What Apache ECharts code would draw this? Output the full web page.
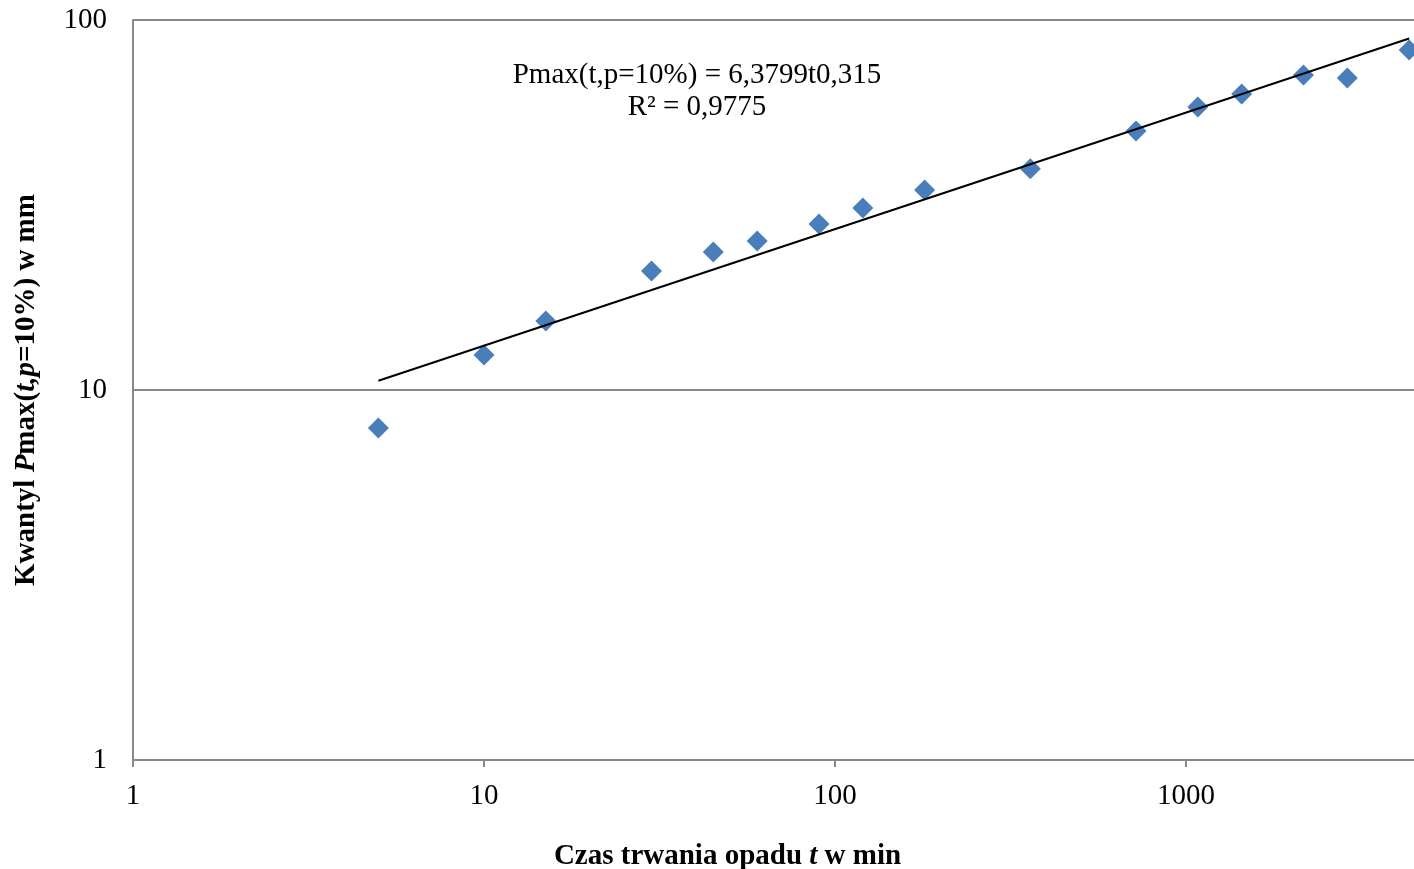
<!DOCTYPE html>
<html>
<head>
<meta charset="utf-8">
<script src="https://cdn.jsdelivr.net/npm/echarts@6/dist/echarts.min.js"></script>
<style>
html,body{margin:0;padding:0;background:#fff;}
#chart{width:1414px;height:869px;}
</style>
</head>
<body>
<div id="chart"></div>
<script>
// Data
var durations = [5, 10, 15, 30, 45, 60, 90, 120, 180, 360, 720, 1080, 1440, 2160, 2880, 4320];
var quantiles = [7.89, 12.43, 15.37, 20.97, 23.6, 25.27, 28.1, 31.04, 34.7, 39.6, 50.1, 58.2, 63.1, 71.0, 69.7, 83.0];
var trendX = [5, 4320];
var trendY = [10.59, 89.1];
var equationText = 'Pmax(t,p=10%) = 6,3799t0,315\nR² = 0,9775';

var FONT = '"Liberation Serif", "Times New Roman", serif';
var FS = 29;
var chart = echarts.init(document.getElementById('chart'));

var pts = durations.map(function (d, i) { return [d, quantiles[i]]; });
var trend = trendX.map(function (d, i) { return [d, trendY[i]]; });
var rich = {
  b: { fontFamily: FONT, fontSize: FS, fontWeight: 'bold', color: '#000' },
  bi: { fontFamily: FONT, fontSize: FS, fontWeight: 'bold', fontStyle: 'italic', color: '#000' }
};

chart.setOption({
  animation: false,
  backgroundColor: '#fff',
  grid: { left: 133, right: 0, top: 20, bottom: 109, containLabel: false, outerBoundsMode: 'none' },
  xAxis: {
    type: 'log', logBase: 10, min: 1, max: 4460,
    axisLine: { lineStyle: { color: '#898989', width: 2 } },
    axisTick: { show: true, length: 7, lineStyle: { color: '#898989', width: 2 } },
    minorTick: { show: false },
    splitLine: { show: false },
    axisLabel: { color: '#000', fontFamily: FONT, fontSize: FS, margin: 22, showMaxLabel: false,
      formatter: function (v) { return String(Math.round(v)); } },
    name: '{b|Czas trwania opadu }{bi|t}{b| w min}',
    nameLocation: 'middle', nameGap: 82,
    nameTextStyle: { rich: rich, padding: [0, 92, 0, 0] }
  },
  yAxis: {
    type: 'log', logBase: 10, min: 1, max: 100,
    axisLine: { show: true, lineStyle: { color: '#898989', width: 2 } },
    axisTick: { show: false },
    splitLine: { show: true, lineStyle: { color: '#898989', width: 2 } },
    axisLabel: { color: '#000', fontFamily: FONT, fontSize: FS, margin: 26,
      formatter: function (v) { return String(Math.round(v)); } },
    name: '{b|Kwantyl }{bi|P}{b|max(}{bi|t,p}{b|=10%) w mm}',
    nameLocation: 'middle', nameGap: 92, nameRotate: 90,
    nameTextStyle: { rich: rich }
  },
  series: [
    {
      type: 'line', data: trend, symbol: 'none',
      lineStyle: { color: '#000', width: 2 }, z: 3
    },
    {
      type: 'scatter', data: pts, symbol: 'diamond', symbolSize: [21, 21],
      itemStyle: { color: '#4A7EBB', opacity: 1 }, z: 2
    }
  ],
  graphic: [{
    type: 'text', x: 697, y: 59,
    style: {
      text: equationText, fill: '#000', font: FS + 'px ' + FONT,
      align: 'center', verticalAlign: 'top', lineHeight: 32
    }
  }]
});
</script>
</body>
</html>
